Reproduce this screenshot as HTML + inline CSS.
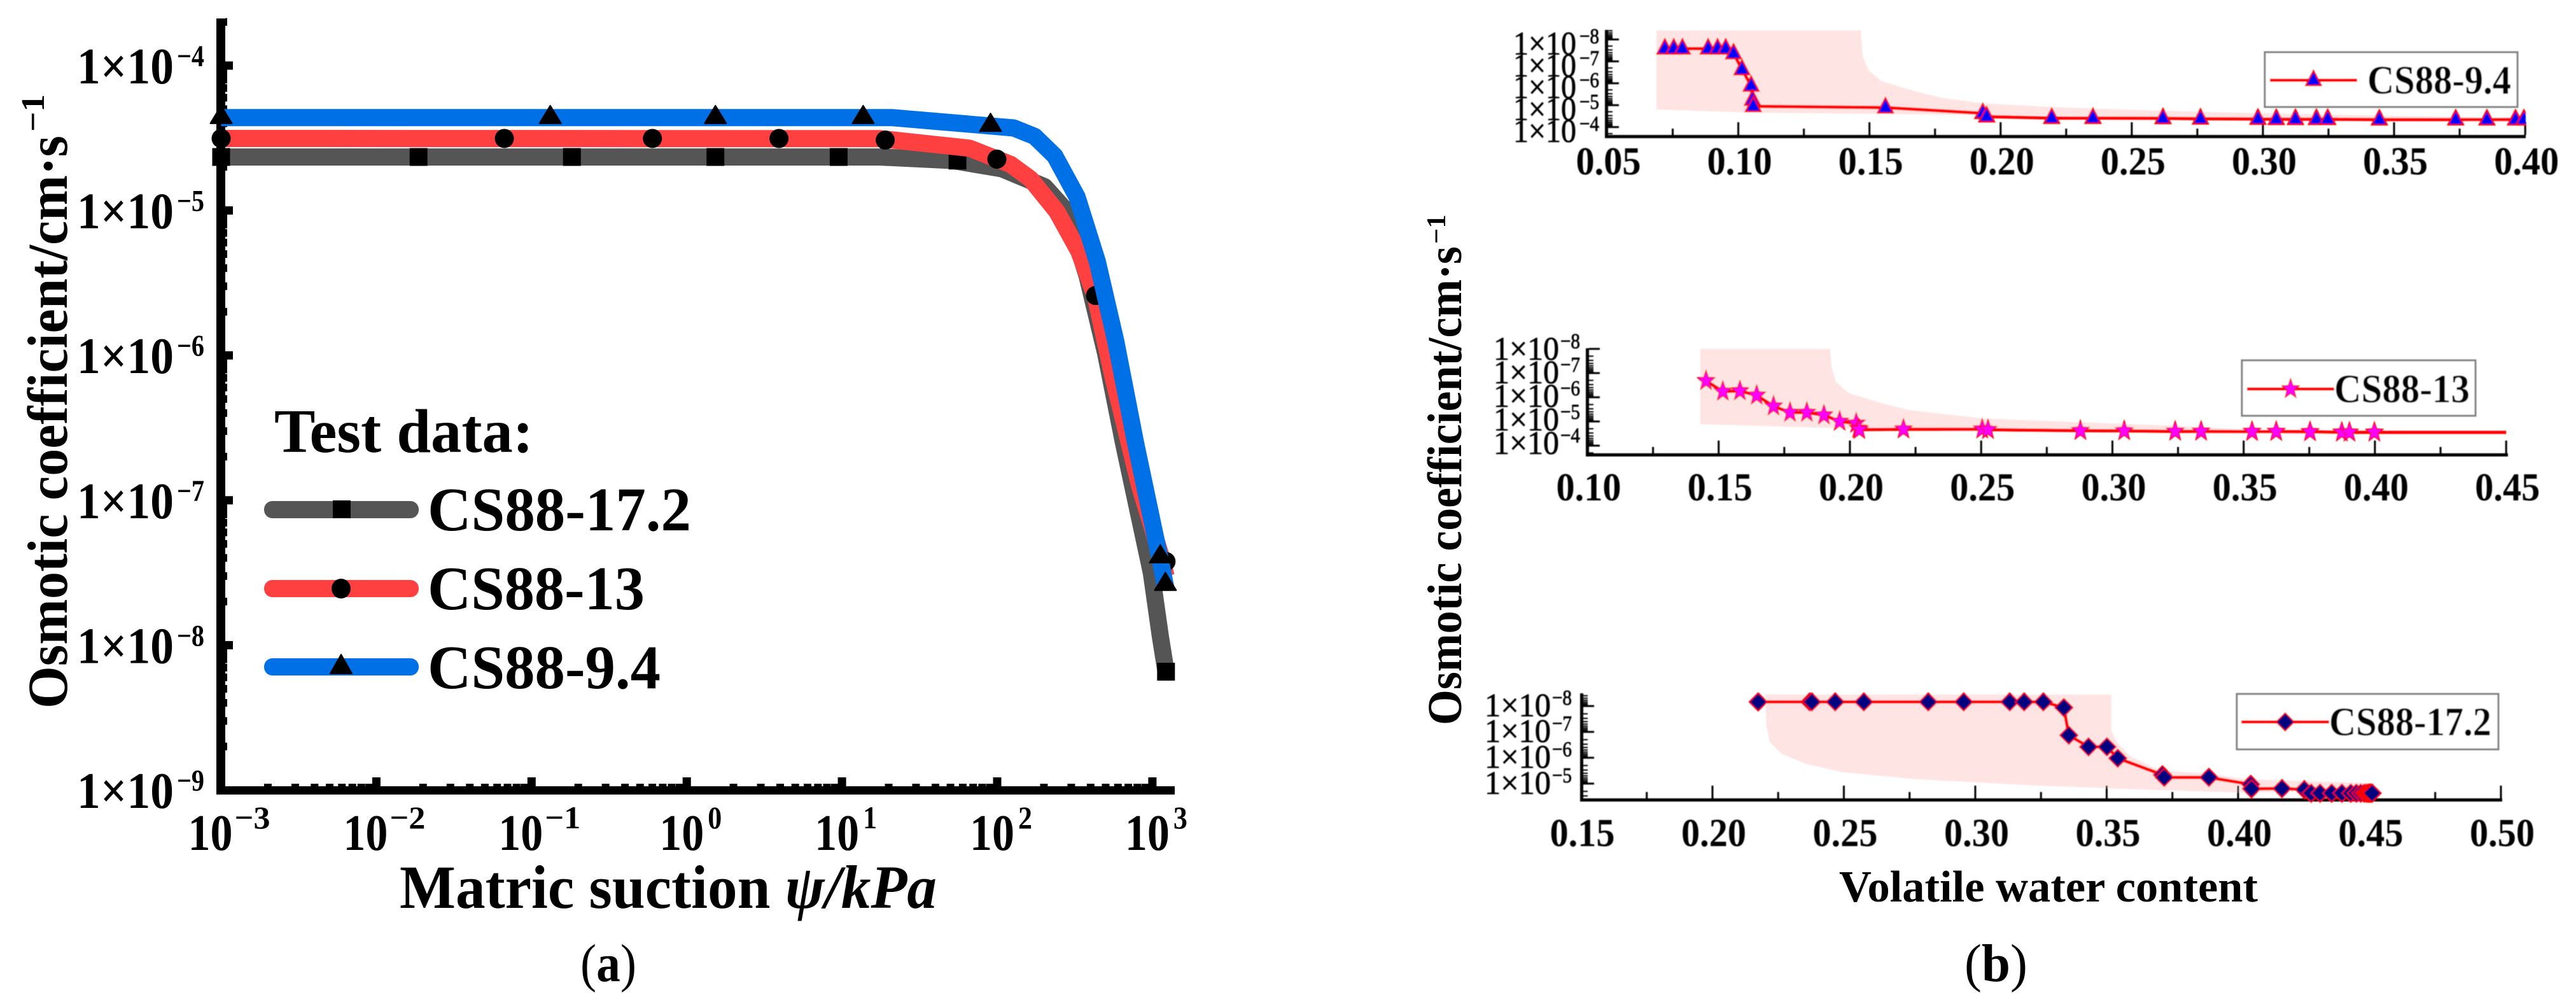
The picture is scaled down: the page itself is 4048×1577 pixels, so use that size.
<!DOCTYPE html>
<html lang="en">
<head>
<meta charset="utf-8">
<title>Osmotic coefficient charts</title>
<style>
html,body{margin:0;padding:0;background:#fff;}
svg{display:block;position:absolute;left:0;top:0;}
text{font-family:"Liberation Serif",serif;fill:#000;}
.b{font-weight:bold;}
.thick{stroke:#000;stroke-width:0.8px;}
</style>
</head>
<body>
<svg id="figure" xmlns="http://www.w3.org/2000/svg" width="4048" height="1577" viewBox="0 0 4048 1577">
  <rect x="0" y="0" width="4048" height="1577" fill="#fff"/>
  <defs>
    <clipPath id="topClip"><rect x="2400" y="30" width="1569" height="200"/></clipPath>
    <filter id="soft" x="-2%" y="-2%" width="104%" height="104%"><feGaussianBlur stdDeviation="0.7"/></filter>
  </defs>

  <g id="panelA"></g>
  <g id="panelB" filter="url(#soft)"></g>

  <!-- panel a static text -->
  <text class="b" font-size="89" textLength="900" lengthAdjust="spacingAndGlyphs" transform="translate(105,1113) rotate(-90)">Osmotic coefficient/cm·s</text>
  <text class="b" font-size="52" textLength="59" lengthAdjust="spacingAndGlyphs" transform="translate(69,207) rotate(-90)">−1</text>
  <text class="b" x="628" y="1426" font-size="96" textLength="844" lengthAdjust="spacingAndGlyphs">Matric suction <tspan font-style="italic">ψ/kPa</tspan></text>
  <text x="912" y="1541" font-size="84" textLength="88" lengthAdjust="spacingAndGlyphs">(<tspan class="b">a</tspan>)</text>

  <!-- panel a legend -->
  <g>
    <text class="b" x="431" y="710" font-size="98" textLength="407" lengthAdjust="spacingAndGlyphs">Test data:</text>
    <g>
      <rect x="415" y="787" width="243" height="27" rx="13" fill="#555555"/>
      <rect x="523" y="786" width="28" height="28" fill="#000"/>
      <text class="b" x="672" y="833" font-size="97" textLength="414" lengthAdjust="spacingAndGlyphs">CS88-17.2</text>
    </g>
    <g>
      <rect x="415" y="911" width="243" height="27" rx="13" fill="#FF4040"/>
      <ellipse cx="536" cy="924.5" rx="15" ry="15.5" fill="#000"/>
      <text class="b" x="672" y="957" font-size="97" textLength="341" lengthAdjust="spacingAndGlyphs">CS88-13</text>
    </g>
    <g>
      <rect x="415" y="1034" width="243" height="27" rx="13" fill="#0070E6"/>
      <polygon points="536,1028 519,1058 553,1058" fill="#000" stroke="#000" stroke-width="2" stroke-linejoin="round"/>
      <text class="b" x="672" y="1081" font-size="97" textLength="366" lengthAdjust="spacingAndGlyphs">CS88-9.4</text>
    </g>
  </g>

  <!-- panel b static text -->
  <text class="b" font-size="76" textLength="752" lengthAdjust="spacingAndGlyphs" transform="translate(2296,1139) rotate(-90)">Osmotic coefficient/cm·s</text>
  <text class="b" font-size="42" textLength="46" lengthAdjust="spacingAndGlyphs" transform="translate(2271,383) rotate(-90)">−1</text>
  <text class="b" x="2890" y="1416" font-size="70" textLength="658" lengthAdjust="spacingAndGlyphs">Volatile water content</text>
  <text x="3087" y="1541" font-size="84" textLength="99" lengthAdjust="spacingAndGlyphs">(<tspan class="b">b</tspan>)</text>
</svg>

<script>
// ---------- Panel (a) data: matric suction (kPa) vs osmotic coefficient (cm/s) ----------
const aXExponents = [-3, -2, -1, 0, 1, 2, 3];
const aYExponents = [-4, -5, -6, -7, -8, -9];
const minorSubs = [2, 3, 4, 5, 6, 7, 8, 9];

const grayCurvePsi = [1e-3, 17.7, 52.0, 107, 202, 281, 380, 500, 650, 985, 1125, 1224];
const grayCurveK = [2.34e-5, 2.34e-5, 2.21e-5, 1.94e-5, 1.46e-5, 9.86e-6, 3.52e-6, 1.03e-6, 2.51e-7, 3.15e-8, 1.15e-8, 6.56e-9];
const redCurvePsi = [1e-3, 17.7, 66.4, 122, 164, 242, 336, 430, 559, 832, 1156, 1224];
const redCurveK = [3.14e-5, 3.13e-5, 2.69e-5, 2.08e-5, 1.65e-5, 9.86e-6, 5.21e-6, 2.54e-6, 7.03e-7, 1.23e-7, 3.85e-8, 2.99e-8];
const blueCurvePsi = [1e-3, 21.2, 128, 174, 235, 327, 442, 581, 778, 1125, 1224];
const blueCurveK = [4.37e-5, 4.37e-5, 3.71e-5, 3.25e-5, 2.38e-5, 1.24e-5, 4.44e-6, 1.25e-6, 2.51e-7, 3.85e-8, 2.44e-8];

const squarePsi = [1e-3, 0.0187, 0.182, 1.53, 9.52, 55.5, 1224];
const squareK = [2.34e-5, 2.34e-5, 2.34e-5, 2.34e-5, 2.34e-5, 2.21e-5, 6.56e-9];
const circlePsi = [1e-3, 0.0668, 0.601, 3.93, 19.0, 99.6, 430, 1224];
const circleK = [3.14e-5, 3.14e-5, 3.14e-5, 3.14e-5, 3.06e-5, 2.26e-5, 2.59e-6, 3.78e-8];
const trianglePsi = [1e-3, 0.132, 1.53, 13.7, 90.6, 1125, 1213];
const triangleK = [4.37e-5, 4.37e-5, 4.37e-5, 4.37e-5, 3.86e-5, 4.06e-8, 2.62e-8];

// ---------- Panel (b) data: volatile water content vs log10 of osmotic coefficient ----------
const topXLabels = ['0.05', '0.10', '0.15', '0.20', '0.25', '0.30', '0.35', '0.40'];
const midXLabels = ['0.10', '0.15', '0.20', '0.25', '0.30', '0.35', '0.40', '0.45'];
const botXLabels = ['0.15', '0.20', '0.25', '0.30', '0.35', '0.40', '0.45', '0.50'];
const topYExponents = [-8, -7, -6, -5, -4];
const midYExponents = [-8, -7, -6, -5, -4];
const botYExponents = [-8, -7, -6, -5];

const topTheta = [0.0720, 0.0754, 0.0787, 0.0885, 0.0921, 0.0952, 0.0982, 0.1014, 0.1049, 0.1054, 0.1057, 0.1561, 0.1932, 0.1947, 0.2195, 0.2352, 0.2619, 0.2762, 0.2981, 0.3051, 0.3124, 0.3204, 0.3247, 0.3444, 0.3735, 0.3854, 0.3963, 0.3995];
const topLogK = [-7.58, -7.58, -7.58, -7.58, -7.58, -7.58, -7.36, -6.63, -5.88, -5.24, -4.95, -4.89, -4.63, -4.48, -4.41, -4.41, -4.40, -4.38, -4.37, -4.36, -4.36, -4.36, -4.36, -4.34, -4.34, -4.34, -4.34, -4.34];
const topBandTheta = [0.0688, 0.1467, 0.1474, 0.1496, 0.1544, 0.1668, 0.1772, 0.1928, 0.2187, 0.2624, 0.2998, 0.3997, 0.3997, 0.1772, 0.1047, 0.0688];
const topBandLogK = [-8.41, -8.41, -7.27, -6.60, -6.11, -5.65, -5.35, -5.09, -4.92, -4.74, -4.63, -4.40, -4.22, -4.57, -4.66, -4.80];

const midTheta = [0.1452, 0.1516, 0.1581, 0.1645, 0.1709, 0.1772, 0.1836, 0.1901, 0.1961, 0.2024, 0.2032, 0.2036, 0.2204, 0.2504, 0.2526, 0.2878, 0.3045, 0.3239, 0.3338, 0.3532, 0.3624, 0.3753, 0.3874, 0.3903, 0.3998];
const midLogK = [-6.68, -6.24, -6.26, -6.08, -5.63, -5.37, -5.37, -5.26, -5.00, -4.92, -4.71, -4.66, -4.68, -4.68, -4.66, -4.62, -4.61, -4.59, -4.59, -4.58, -4.58, -4.57, -4.55, -4.55, -4.55];
const midTailTheta = [0.45];
const midTailLogK = [-4.55];
const midBandTheta = [0.1430, 0.1925, 0.1930, 0.1947, 0.1995, 0.2119, 0.2225, 0.2502, 0.2873, 0.3198, 0.3523, 0.3922, 0.3922, 0.3523, 0.2347, 0.1978, 0.1430];
const midBandLogK = [-8, -8, -7.24, -6.63, -6.18, -5.76, -5.47, -5.13, -4.97, -4.84, -4.66, -4.61, -4.47, -4.50, -4.61, -4.71, -4.89];

const botTheta = [0.2174, 0.2370, 0.2378, 0.2467, 0.2576, 0.2821, 0.2956, 0.3131, 0.3186, 0.3259, 0.3337, 0.3356, 0.3431, 0.3501, 0.3542, 0.3712, 0.3719, 0.3889, 0.4048, 0.4051, 0.4167, 0.4252, 0.4278, 0.4312, 0.4356, 0.4395, 0.4429, 0.4450, 0.4467, 0.4480, 0.4488, 0.4494, 0.4498, 0.4502, 0.4506, 0.4510];
const botLogK = [-8.16, -8.16, -8.16, -8.16, -8.16, -8.16, -8.16, -8.16, -8.16, -8.16, -7.94, -6.87, -6.42, -6.42, -5.98, -5.34, -5.24, -5.24, -4.97, -4.80, -4.81, -4.77, -4.63, -4.63, -4.63, -4.63, -4.63, -4.63, -4.63, -4.63, -4.63, -4.63, -4.63, -4.63, -4.63, -4.63];
const botBandTheta = [0.2201, 0.3518, 0.3518, 0.3538, 0.3591, 0.3705, 0.3879, 0.4029, 0.4492, 0.4492, 0.4025, 0.3700, 0.3235, 0.2772, 0.2494, 0.2356, 0.2264, 0.2218, 0.2205];
const botBandLogK = [-8.44, -8.44, -7.06, -6.60, -6.05, -5.51, -5.39, -5.17, -5.02, -4.77, -4.65, -4.75, -4.92, -5.17, -5.44, -5.76, -6.15, -6.60, -7.24];

// ---------- helpers ----------
const NS = 'http://www.w3.org/2000/svg';
function mk(tag, attrs, parent) {
  const e = document.createElementNS(NS, tag);
  for (const k in attrs) e.setAttribute(k, attrs[k]);
  parent.appendChild(e);
  return e;
}
function label(parent, x, y, str, size, width, bold, anchor) {
  const t = mk('text', {x: x, y: y, 'font-size': size, textLength: width, lengthAdjust: 'spacingAndGlyphs'}, parent);
  t.setAttribute('class', bold ? 'b' : 'thick');
  if (anchor) t.setAttribute('text-anchor', anchor);
  t.textContent = str;
  return t;
}
function pointsOf(xs, ys, xf, yf) {
  return xs.map((v, i) => xf(v).toFixed(1) + ',' + yf(ys[i]).toFixed(1)).join(' ');
}
function minusExp(e) { return e < 0 ? '−' + Math.abs(e) : String(e); }

// ---------- Panel (a) ----------
const panelA = document.getElementById('panelA');
const xA = v => 347.5 + (Math.log10(v) + 3) * 243.9;
const yA = k => 103 + (-4 - Math.log10(k)) * 227.6;

const aYAxis = mk('rect', {x: 340, y: 29, width: 14, height: 1219, fill: '#000'}, panelA);


const aXAxis = mk('rect', {x: 340, y: 1235, width: 1506, height: 13, fill: '#000'}, panelA);



aYExponents.forEach(e => {
  const y = yA(Math.pow(10, e));
  if (e > -9) {
    const tick = mk('rect', {x: 354, y: y - 6.5, width: 12, height: 13, fill: '#000'}, panelA);
    
    
  }
  const main = label(panelA, 121, y + 28, '1×10', 80, 152, true);
  
  
  const sup = label(panelA, 278, y + 1, minusExp(e), 48, 43, true);
  
  
});
[-9, -8, -7, -6, -5, -4].forEach(e => {
  minorSubs.forEach(n => {
    const y = yA(n * Math.pow(10, e));
    if (y < 34 || y > 1235) return;
    const tick = mk('rect', {x: 354, y: y - 6, width: 3, height: 12, fill: '#000'}, panelA);
    
    
  });
});
aXExponents.forEach(e => {
  const x = xA(Math.pow(10, e));
  const tick = mk('rect', {x: x - 6.5, y: 1221, width: 13, height: 14, fill: '#000'}, panelA);
  
  
  const neg = e < 0;
  const main = label(panelA, x + (neg ? -52 : -43), 1335, '10', 80, 70, true);
  
  
  const sup = label(panelA, x + (neg ? 21 : 33), 1301, minusExp(e), 50, neg ? 56 : 22, true);
  
  
  if (e < 3) {
    minorSubs.forEach(n => {
      const mx = xA(n * Math.pow(10, e));
      const m = mk('rect', {x: mx - 6, y: 1231, width: 12, height: 4, fill: '#000'}, panelA);
      
      
    });
  }
});

// series drawn in order: each line followed by its own markers, so later lines overlap earlier markers
const grayLine = mk('polyline', {points: pointsOf(grayCurvePsi, grayCurveK, xA, yA), fill: 'none', stroke: '#555555', 'stroke-width': 27, 'stroke-linejoin': 'round'}, panelA);


squarePsi.forEach((v, i) => {
  const x = xA(v), y = yA(squareK[i]);
  const m = mk('rect', {x: x - 14, y: y - 14, width: 28, height: 28, fill: '#000'}, panelA);
  
  
});

const redLine = mk('polyline', {points: pointsOf(redCurvePsi, redCurveK, xA, yA), fill: 'none', stroke: '#FF4040', 'stroke-width': 27, 'stroke-linejoin': 'round'}, panelA);


circlePsi.forEach((v, i) => {
  const m = mk('circle', {cx: xA(v), cy: yA(circleK[i]), r: 15, fill: '#000'}, panelA);
  
  
});

const blueLine = mk('polyline', {points: pointsOf(blueCurvePsi, blueCurveK, xA, yA), fill: 'none', stroke: '#0070E6', 'stroke-width': 27, 'stroke-linejoin': 'round'}, panelA);


trianglePsi.forEach((v, i) => {
  const x = xA(v), y = yA(triangleK[i]);
  const m = mk('polygon', {points: `${x},${y - 19} ${x - 17},${y + 9} ${x + 17},${y + 9}`, fill: '#000', stroke: '#000', 'stroke-width': 2, 'stroke-linejoin': 'round'}, panelA);
  
  
});

// ---------- Panel (b) ----------
const panelB = document.getElementById('panelB');

function triangleShape(parent, x, y) {
  return mk('polygon', {points: `${x},${y - 15} ${x - 12},${y + 8} ${x + 12},${y + 8}`, fill: '#0000FF', stroke: '#FF0000', 'stroke-width': 2.5}, parent);
}
function starShape(parent, x, y) {
  const pts = [];
  for (let i = 0; i < 10; i++) {
    const r = i % 2 === 0 ? 16 : 6.8;
    const a = -Math.PI / 2 + i * Math.PI / 5;
    pts.push((x + r * 0.88 * Math.cos(a)).toFixed(1) + ',' + (y + r * Math.sin(a)).toFixed(1));
  }
  return mk('polygon', {points: pts.join(' '), fill: '#FF00FF', stroke: '#FF0000', 'stroke-width': 1.6}, parent);
}
function diamondShape(parent, x, y) {
  return mk('polygon', {points: `${x},${y - 14} ${x + 14},${y} ${x},${y + 14} ${x - 14},${y}`, fill: '#000080', stroke: '#FF0000', 'stroke-width': 2}, parent);
}

function drawChart(c) {
  const g = mk('g', {}, panelB);
  
  

  const band = mk('polygon', {points: pointsOf(c.bandTheta, c.bandLogK, c.x, c.y), fill: '#FFE4E4'}, g);
  
  

  // axes
  const yAxis = mk('rect', {x: c.left, y: c.top, width: 5, height: c.bottom - c.top, fill: '#000'}, g);
  
  
  const xAxis = mk('rect', {x: c.left, y: c.bottom - 5, width: c.right - c.left, height: 5, fill: '#000'}, g);
  
  

  c.yExponents.forEach((e, i) => {
    const y = c.y(e);
    const t = mk('rect', {x: c.left + 5, y: y - 1.5, width: 17, height: 3, fill: '#000'}, g);
    
    
    const main = label(g, c.labelX, y + c.labelDy + c.labelDrift * i, '1×10', 52, c.labelW, false);
    
    
    const sup = label(g, c.supX, y + c.supDy + c.labelDrift * i, minusExp(e), 34, 31, false);
    
    
  });
  [-10, -9, -8, -7, -6, -5, -4, -3].forEach(e => {
    minorSubs.forEach(n => {
      const y = c.y(e + Math.log10(n));
      if (y < c.top || y > c.bottom - 5) return;
      const t = mk('rect', {x: c.left + 5, y: y - 1, width: 7, height: 2, fill: '#000'}, g);
      
      
    });
  });
  c.xLabels.forEach((s, i) => {
    const v = parseFloat(s);
    const x = c.x(v);
    const t = mk('rect', {x: x - 1.5, y: c.bottom - 25, width: 3, height: 20, fill: '#000'}, g);
    
    
    const lab = label(g, x + 2, c.xLabelY, s, 62, 102, true, 'middle');
    
    
    if (i < c.xLabels.length - 1) {
      const mx = c.x(v + 0.025);
      const m = mk('rect', {x: mx - 1.5, y: c.bottom - 15, width: 3, height: 10, fill: '#000'}, g);
      
      
    }
  });

  // series
  const line = mk('polyline', {points: pointsOf(c.lineTheta, c.lineLogK, c.x, c.y), fill: 'none', stroke: '#FF0000', 'stroke-width': 5}, g);
  
  

  const marks = mk('g', {}, g);
  
  
  if (c.clip) marks.setAttribute('clip-path', c.clip);
  c.theta.forEach((v, i) => {
    const m = c.shape(marks, c.x(v), c.y(c.logK[i]));
    
    
  });

  // legend
  const lg = mk('g', {}, g);
  
  
  const box = mk('rect', {x: c.lgX, y: c.lgY, width: c.lgW, height: c.lgH, fill: '#fff', stroke: '#808080', 'stroke-width': 3}, lg);
  
  
  const ll = mk('line', {x1: c.lgLineX1, x2: c.lgLineX2, y1: c.lgLineY, y2: c.lgLineY, stroke: '#FF0000', 'stroke-width': 5}, lg);
  
  
  const lm = c.shape(lg, (c.lgLineX1 + c.lgLineX2) / 2, c.lgLineY);
  
  
  const lt = label(lg, c.lgTextX, c.lgTextY, c.name, 63, c.lgTextW, true);
  
  
}

drawChart({
  id: 'top', name: 'CS88-9.4',
  x: v => 2525.5 + (v - 0.05) * 4122, y: l => 62 + (l + 8) * 34.4,
  left: 2522, right: 3969, top: 47, bottom: 217,
  xLabels: topXLabels, xLabelY: 274, yExponents: topYExponents,
  labelX: 2378, labelW: 99, labelDy: 23.4, labelDrift: 0, supX: 2482, supDy: 6,
  theta: topTheta, logK: topLogK, lineTheta: topTheta, lineLogK: topLogK,
  bandTheta: topBandTheta, bandLogK: topBandLogK,
  shape: triangleShape, clip: 'url(#topClip)',
  lgX: 3559, lgY: 82, lgW: 397, lgH: 86, lgLineX1: 3567, lgLineX2: 3704, lgLineY: 126,
  lgTextX: 3720, lgTextY: 147, lgTextW: 226
});
drawChart({
  id: 'middle', name: 'CS88-13',
  x: v => 2494.5 + (v - 0.1) * 4125, y: l => 548 + (l + 8) * 38,
  left: 2492, right: 3941, top: 547, bottom: 717,
  xLabels: midXLabels, xLabelY: 786, yExponents: midYExponents,
  labelX: 2347, labelW: 103, labelDy: 17, labelDrift: -1, supX: 2452, supDy: -1,
  theta: midTheta, logK: midLogK,
  lineTheta: midTheta.concat(midTailTheta), lineLogK: midLogK.concat(midTailLogK),
  bandTheta: midBandTheta, bandLogK: midBandLogK,
  shape: starShape,
  lgX: 3523, lgY: 566, lgW: 367, lgH: 87, lgLineX1: 3531, lgLineX2: 3668, lgLineY: 611,
  lgTextX: 3668, lgTextY: 632, lgTextW: 213
});
drawChart({
  id: 'bottom', name: 'CS88-17.2',
  x: v => 2691 + (v - 0.2) * 4130, y: l => 1109 + (l + 8) * 40.6,
  left: 2483, right: 3932, top: 1089, bottom: 1259,
  xLabels: botXLabels, xLabelY: 1329, yExponents: botYExponents,
  labelX: 2333, labelW: 104, labelDy: 16, labelDrift: 0, supX: 2439, supDy: -2,
  theta: botTheta, logK: botLogK, lineTheta: botTheta, lineLogK: botLogK,
  bandTheta: botBandTheta, bandLogK: botBandLogK,
  shape: diamondShape,
  lgX: 3515, lgY: 1090, lgW: 411, lgH: 87, lgLineX1: 3522, lgLineX2: 3660, lgLineY: 1134,
  lgTextX: 3660, lgTextY: 1155, lgTextW: 255
});
</script>
</body>
</html>
